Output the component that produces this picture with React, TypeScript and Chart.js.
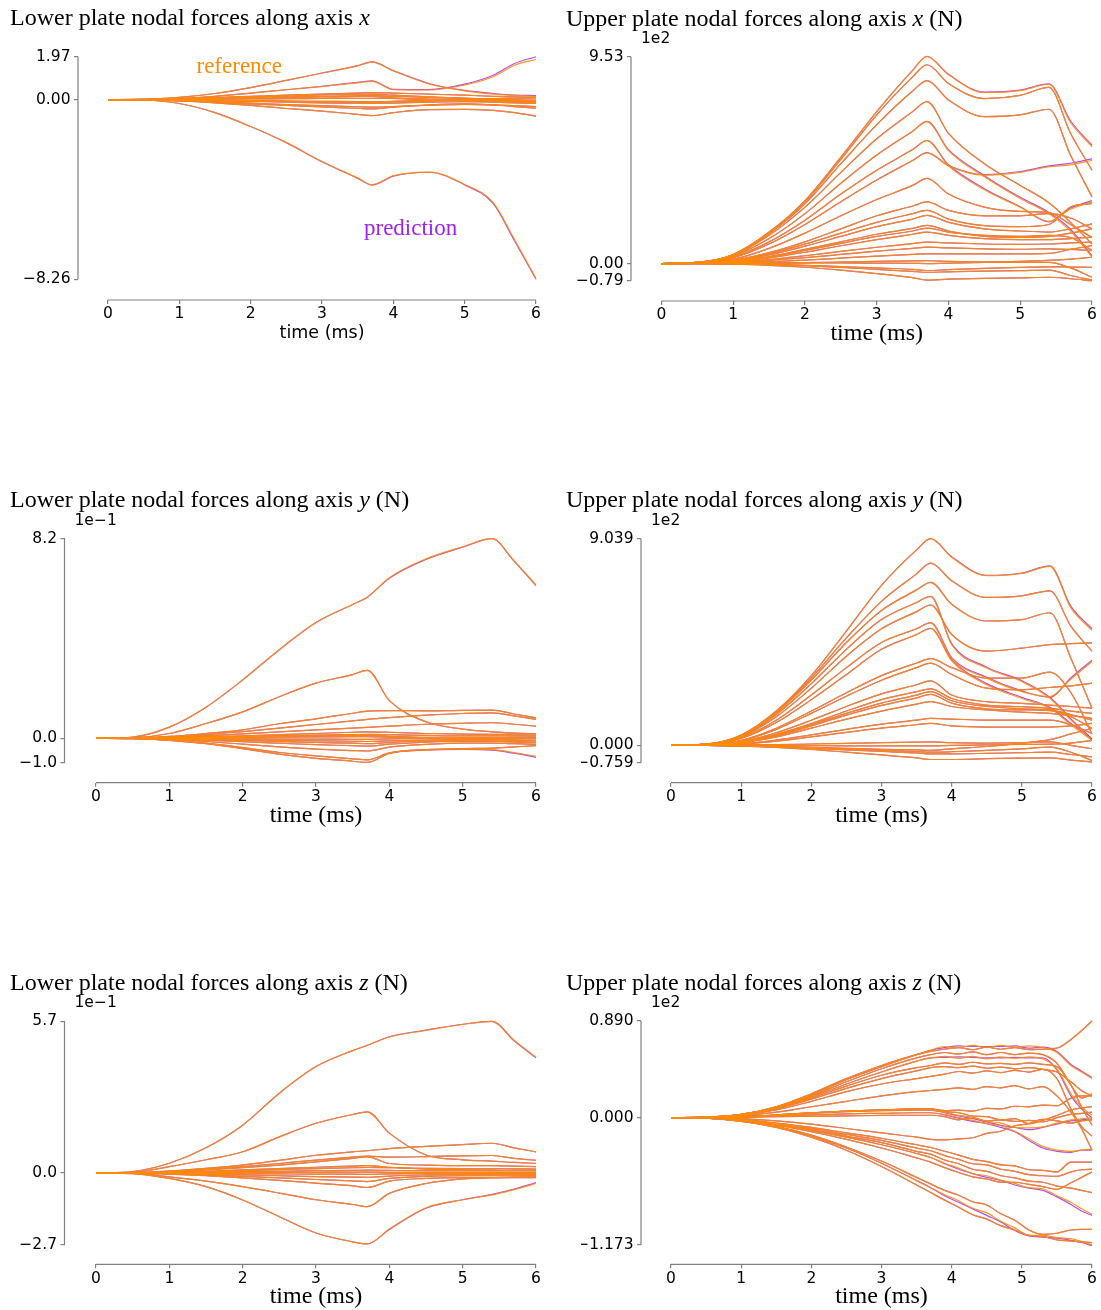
import React, { useEffect, useRef } from "react";
import { Chart, registerables } from "chart.js";

Chart.register(...registerables);

const PAGE_W = 1101;
const PAGE_H = 1310;

// ---------------- time axes ----------------
const TIME = [0, 0.5, 1, 1.5, 2, 2.5, 3, 3.5, 3.7, 4, 4.5, 5, 5.4, 5.7, 6];
const TIME_UPPER_Z = [0, 0.5, 1, 1.5, 2, 2.5, 3, 3.5, 3.7, 3.9, 4.1, 4.3, 4.5, 4.7, 4.9, 5.1, 5.3, 5.5, 5.7, 5.85, 6];
const X_TICKS = [0, 1, 2, 3, 4, 5, 6];

// ---------------- Lower plate, axis x ----------------
const LOWER_X_REF = [
  [0, 0.01, 0.1, 0.28, 0.55, 0.88, 1.22, 1.55, 1.72, 1.32, 0.72, 0.4, 0.25, 0.18, 0.15],
  [0, 0.005, 0.05, 0.15, 0.3, 0.45, 0.6, 0.77, 0.84, 0.45, 0.44, 0.67, 1.05, 1.58, 1.84],
  [0, -0.02, -0.18, -0.6, -1.24, -1.98, -2.85, -3.6, -3.91, -3.5, -3.33, -3.9, -4.74, -6.44, -8.22],
  [0, -0.01, -0.06, -0.15, -0.27, -0.41, -0.53, -0.68, -0.74, -0.6, -0.46, -0.45, -0.5, -0.6, -0.76],
  [0, 0.005, 0.04, 0.09, 0.15, 0.2, 0.25, 0.3, 0.32, 0.3, 0.25, 0.2, 0.15, 0.12, 0.1],
  [0, 0.003, 0.02, 0.05, 0.08, 0.11, 0.14, 0.17, 0.18, 0.15, 0.1, 0.06, 0.04, 0.06, 0.08],
  [0, 0.002, 0.01, 0.02, 0.03, 0.04, 0.05, 0.06, 0.06, 0.05, 0.02, 0.0, -0.02, -0.03, -0.05],
  [0, -0.002, -0.01, -0.03, -0.05, -0.07, -0.08, -0.09, -0.1, -0.08, -0.05, -0.03, -0.02, -0.02, -0.02],
  [0, -0.003, -0.02, -0.05, -0.08, -0.12, -0.15, -0.17, -0.18, -0.16, -0.12, -0.1, -0.12, -0.15, -0.18],
  [0, -0.005, -0.04, -0.1, -0.16, -0.23, -0.28, -0.33, -0.35, -0.32, -0.26, -0.22, -0.24, -0.28, -0.32],
  [0, -0.005, -0.05, -0.12, -0.2, -0.27, -0.34, -0.4, -0.43, -0.35, -0.25, -0.2, -0.25, -0.32, -0.4],
  [0, 0.002, 0.015, 0.04, 0.07, 0.1, 0.12, 0.14, 0.15, 0.08, 0.0, -0.05, -0.08, -0.1, -0.12],
  [0, 0.004, 0.03, 0.07, 0.12, 0.17, 0.21, 0.24, 0.25, 0.2, 0.12, 0.06, 0.02, -0.03, -0.08],
  [0, -0.002, -0.015, -0.04, -0.06, -0.08, -0.1, -0.12, -0.13, -0.1, -0.06, -0.04, -0.06, -0.1, -0.13],
];
const LOWER_X_PRED_DIFF: Record<number, number[]> = {
  0: [0, 0.01, 0.1, 0.28, 0.55, 0.88, 1.22, 1.56, 1.73, 1.33, 0.74, 0.42, 0.28, 0.21, 0.18],
  1: [0, 0.005, 0.05, 0.15, 0.3, 0.45, 0.61, 0.79, 0.86, 0.47, 0.46, 0.71, 1.12, 1.66, 1.97],
  2: [0, -0.02, -0.18, -0.6, -1.24, -1.98, -2.86, -3.62, -3.93, -3.52, -3.34, -3.92, -4.78, -6.5, -8.26],
};
const LOWER_X_YTICKS = [-8.26, 0, 1.97];

// ---------------- Upper plate, axis x (x 1e2 N) ----------------
const UPPER_X_REF = [
  [0, 0.05, 0.42, 1.45, 2.9, 4.9, 7.0, 8.9, 9.53, 8.7, 7.88, 7.97, 8.26, 6.5, 5.38],
  [0, 0.05, 0.41, 1.42, 2.85, 4.8, 6.85, 8.6, 9.16, 8.3, 7.6, 7.75, 8.12, 6.0, 4.3],
  [0, 0.05, 0.4, 1.38, 2.75, 4.6, 6.4, 7.95, 8.43, 7.54, 6.77, 6.85, 7.11, 5.0, 3.07],
  [0, 0.05, 0.38, 1.3, 2.6, 4.2, 5.75, 7.0, 7.46, 6.0, 4.6, 3.6, 2.8, 1.9, 0.9],
  [0, 0.04, 0.34, 1.15, 2.3, 3.7, 5.0, 6.1, 6.54, 5.2, 4.0, 3.0, 2.3, 1.5, 0.3],
  [0, 0.04, 0.3, 1.0, 2.0, 3.2, 4.3, 5.25, 5.66, 4.5, 3.4, 2.6, 1.95, 2.5, 2.84],
  [0, 0.03, 0.27, 0.9, 1.8, 2.85, 3.85, 4.75, 5.1, 4.5, 4.07, 4.2, 4.46, 4.55, 4.76],
  [0, 0.03, 0.2, 0.7, 1.4, 2.2, 2.95, 3.6, 3.92, 3.2, 2.6, 2.4, 2.35, 1.8, 1.2],
  [0, 0.02, 0.15, 0.5, 1.0, 1.6, 2.2, 2.65, 2.84, 2.45, 2.2, 2.2, 2.3, 2.1, 1.6],
  [0, 0.02, 0.13, 0.45, 0.9, 1.4, 1.9, 2.3, 2.45, 2.05, 1.75, 1.7, 1.8, 2.6, 2.77],
  [0, 0.02, 0.12, 0.4, 0.8, 1.25, 1.7, 2.05, 2.22, 1.9, 1.6, 1.5, 1.45, 1.6, 1.83],
  [0, 0.015, 0.1, 0.32, 0.65, 1.0, 1.35, 1.62, 1.76, 1.5, 1.25, 1.2, 1.25, 1.4, 1.6],
  [0, 0.015, 0.09, 0.3, 0.6, 0.93, 1.25, 1.5, 1.63, 1.45, 1.3, 1.25, 1.3, 1.2, 0.6],
  [0, 0.01, 0.08, 0.26, 0.52, 0.82, 1.1, 1.35, 1.45, 1.3, 1.15, 1.1, 1.1, 1.15, 1.22],
  [0, 0.01, 0.06, 0.18, 0.36, 0.56, 0.75, 0.92, 0.99, 0.95, 0.9, 0.88, 0.9, 0.95, 0.99],
  [0, 0.008, 0.04, 0.14, 0.27, 0.42, 0.57, 0.7, 0.76, 0.72, 0.68, 0.66, 0.68, 0.65, 0.6],
  [0, 0.005, 0.03, 0.08, 0.16, 0.25, 0.34, 0.42, 0.45, 0.45, 0.45, 0.45, 0.47, 0.65, 0.83],
  [0, 0.002, 0.01, 0.02, 0.03, 0.03, 0.02, 0.01, 0.0, 0.02, 0.05, 0.1, 0.15, 0.2, 0.29],
  [0, -0.002, -0.01, -0.04, -0.08, -0.14, -0.2, -0.27, -0.32, -0.28, -0.22, -0.18, -0.15, -0.16, -0.17],
  [0, -0.003, -0.03, -0.08, -0.17, -0.3, -0.46, -0.65, -0.76, -0.72, -0.68, -0.66, -0.63, -0.7, -0.79],
  [0, -0.002, -0.015, -0.05, -0.1, -0.18, -0.27, -0.36, -0.4, -0.38, -0.35, -0.33, -0.3, -0.55, -0.76],
  [0, 0.002, 0.01, 0.02, 0.04, 0.07, 0.1, 0.12, 0.13, 0.1, 0.07, 0.05, 0.05, -0.2, -0.63],
];
const UPPER_X_PRED_DIFF: Record<number, number[]> = {
  0: [0, 0.05, 0.42, 1.45, 2.9, 4.9, 7.0, 8.9, 9.55, 8.72, 7.9, 7.99, 8.28, 6.58, 5.45],
  4: [0, 0.04, 0.34, 1.15, 2.3, 3.7, 5.0, 6.1, 6.55, 5.25, 4.05, 3.05, 2.35, 1.58, 0.36],
  5: [0, 0.04, 0.3, 1.0, 2.0, 3.2, 4.3, 5.25, 5.67, 4.55, 3.45, 2.62, 1.92, 2.56, 2.9],
  6: [0, 0.03, 0.27, 0.9, 1.8, 2.85, 3.85, 4.75, 5.11, 4.52, 4.1, 4.24, 4.5, 4.62, 4.82],
};
const UPPER_X_YTICKS = [-0.79, 0, 9.53];

// ---------------- Lower plate, axis y (x 1e-1 N) ----------------
const LOWER_Y_REF = [
  [0, 0.05, 0.46, 1.28, 2.4, 3.64, 4.76, 5.5, 5.8, 6.6, 7.37, 7.87, 8.2, 7.3, 6.3],
  [0, 0.02, 0.2, 0.61, 1.09, 1.71, 2.27, 2.62, 2.79, 1.55, 0.68, 0.38, 0.27, 0.22, 0.19],
  [0, 0.01, 0.08, 0.2, 0.35, 0.6, 0.8, 1.03, 1.12, 1.14, 1.13, 1.15, 1.16, 1.0, 0.84],
  [0, 0.01, 0.06, 0.15, 0.28, 0.42, 0.57, 0.72, 0.78, 0.85, 0.95, 1.02, 1.05, 0.92, 0.78],
  [0, 0.005, 0.04, 0.1, 0.18, 0.27, 0.35, 0.42, 0.45, 0.5, 0.58, 0.62, 0.64, 0.58, 0.5],
  [0, 0.003, 0.02, 0.06, 0.1, 0.15, 0.2, 0.25, 0.27, 0.25, 0.2, 0.17, 0.16, 0.17, 0.18],
  [0, 0.002, 0.015, 0.04, 0.07, 0.1, 0.13, 0.15, 0.16, 0.15, 0.12, 0.1, 0.1, 0.1, 0.1],
  [0, 0.001, 0.01, 0.02, 0.04, 0.05, 0.06, 0.07, 0.07, 0.05, 0.04, 0.03, 0.03, 0.04, 0.05],
  [0, -0.001, -0.005, -0.01, -0.02, -0.03, -0.03, -0.04, -0.04, -0.02, 0.0, 0.01, 0.0, -0.01, -0.02],
  [0, -0.002, -0.01, -0.03, -0.05, -0.08, -0.1, -0.12, -0.13, -0.1, -0.07, -0.05, -0.06, -0.08, -0.1],
  [0, -0.003, -0.02, -0.05, -0.09, -0.13, -0.17, -0.2, -0.22, -0.17, -0.12, -0.1, -0.12, -0.15, -0.18],
  [0, 0.002, 0.012, 0.03, 0.06, 0.08, 0.1, 0.12, 0.13, 0.08, 0.02, -0.02, -0.03, -0.02, 0.0],
  [0, -0.01, -0.08, -0.22, -0.42, -0.65, -0.82, -0.94, -0.99, -0.62, -0.48, -0.44, -0.46, -0.58, -0.74],
  [0, -0.01, -0.07, -0.2, -0.38, -0.58, -0.72, -0.84, -0.88, -0.6, -0.46, -0.42, -0.4, -0.35, -0.3],
  [0, -0.005, -0.05, -0.13, -0.24, -0.35, -0.44, -0.5, -0.52, -0.36, -0.25, -0.2, -0.2, -0.22, -0.25],
  [0, -0.003, -0.03, -0.08, -0.14, -0.2, -0.26, -0.3, -0.32, -0.24, -0.16, -0.12, -0.12, -0.14, -0.16],
];
const LOWER_Y_PRED_DIFF: Record<number, number[]> = {
  0: [0, 0.05, 0.46, 1.28, 2.4, 3.64, 4.76, 5.5, 5.8, 6.58, 7.35, 7.85, 8.2, 7.28, 6.27],
  12: [0, -0.01, -0.08, -0.22, -0.42, -0.65, -0.82, -0.94, -0.99, -0.62, -0.48, -0.45, -0.48, -0.61, -0.78],
};
const LOWER_Y_YTICKS = [-1.0, 0, 8.2];

// ---------------- Upper plate, axis y (x 1e2 N) ----------------
const UPPER_Y_REF = [
  [0, 0.05, 0.45, 1.5, 3.05, 5.0, 7.0, 8.55, 9.039, 8.23, 7.42, 7.52, 7.83, 6.0, 5.03],
  [0, 0.05, 0.43, 1.45, 2.95, 4.7, 6.3, 7.5, 7.97, 7.2, 6.47, 6.54, 6.76, 5.2, 4.12],
  [0, 0.05, 0.42, 1.42, 2.85, 4.5, 5.9, 6.8, 7.13, 6.17, 5.44, 5.5, 5.8, 3.8, 1.62],
  [0, 0.045, 0.4, 1.35, 2.7, 4.2, 5.5, 6.25, 6.51, 4.4, 3.38, 2.79, 2.06, 1.1, 0.22],
  [0, 0.04, 0.37, 1.25, 2.5, 3.9, 5.1, 5.85, 6.14, 4.85, 4.12, 4.25, 4.41, 4.45, 4.48],
  [0, 0.04, 0.33, 1.1, 2.2, 3.4, 4.5, 5.1, 5.36, 3.8, 2.94, 2.35, 2.13, 2.9, 3.67],
  [0, 0.035, 0.3, 1.0, 2.0, 3.1, 4.2, 4.85, 5.11, 3.7, 2.65, 2.05, 1.62, 0.9, 0.22],
  [0, 0.03, 0.22, 0.75, 1.5, 2.3, 3.05, 3.6, 3.79, 3.4, 2.94, 2.94, 3.2, 2.3, 0.5],
  [0, 0.025, 0.2, 0.7, 1.4, 2.15, 2.85, 3.4, 3.6, 3.1, 2.5, 2.43, 2.53, 2.6, 2.72],
  [0, 0.02, 0.16, 0.55, 1.1, 1.7, 2.25, 2.65, 2.82, 2.2, 1.91, 1.84, 1.76, 1.7, 1.62],
  [0, 0.02, 0.14, 0.48, 0.95, 1.5, 2.0, 2.35, 2.47, 2.05, 1.76, 1.69, 1.62, 1.5, 1.4],
  [0, 0.018, 0.13, 0.45, 0.9, 1.4, 1.85, 2.2, 2.35, 1.95, 1.7, 1.6, 1.55, 1.35, 1.1],
  [0, 0.017, 0.12, 0.42, 0.85, 1.32, 1.75, 2.08, 2.23, 1.85, 1.6, 1.55, 1.52, 1.25, 0.74],
  [0, 0.015, 0.11, 0.37, 0.75, 1.15, 1.5, 1.8, 1.91, 1.7, 1.55, 1.45, 1.4, 1.3, 1.18],
  [0, 0.01, 0.07, 0.23, 0.46, 0.7, 0.93, 1.1, 1.18, 1.15, 1.1, 1.1, 1.1, 0.9, 0.51],
  [0, 0.008, 0.05, 0.18, 0.37, 0.57, 0.75, 0.9, 0.96, 0.85, 0.8, 0.8, 0.8, 0.85, 0.96],
  [0, 0.002, 0.01, 0.03, 0.06, 0.09, 0.12, 0.14, 0.15, 0.12, 0.1, 0.12, 0.15, 0.0, -0.15],
  [0, 0.0, 0.0, 0.0, -0.01, -0.02, -0.02, -0.02, -0.02, 0.0, 0.02, 0.04, 0.05, 0.1, 0.22],
  [0, -0.003, -0.02, -0.05, -0.09, -0.13, -0.17, -0.2, -0.22, -0.15, -0.05, 0.1, 0.25, 0.5, 0.74],
  [0, -0.003, -0.025, -0.07, -0.13, -0.2, -0.27, -0.33, -0.37, -0.37, -0.35, -0.32, -0.3, -0.4, -0.5],
  [0, -0.004, -0.03, -0.09, -0.18, -0.3, -0.42, -0.55, -0.62, -0.62, -0.58, -0.56, -0.55, -0.65, -0.73],
  [0, -0.002, -0.015, -0.05, -0.1, -0.16, -0.22, -0.27, -0.3, -0.28, -0.22, -0.15, -0.08, -0.3, -0.66],
];
const UPPER_Y_PRED_DIFF: Record<number, number[]> = {
  0: [0, 0.05, 0.45, 1.5, 3.05, 5.0, 7.0, 8.55, 9.039, 8.25, 7.44, 7.54, 7.85, 6.08, 5.1],
  3: [0, 0.045, 0.4, 1.35, 2.7, 4.2, 5.5, 6.25, 6.52, 4.45, 3.42, 2.83, 2.1, 1.16, 0.28],
  5: [0, 0.04, 0.33, 1.1, 2.2, 3.4, 4.5, 5.1, 5.37, 3.84, 2.98, 2.38, 2.1, 2.96, 3.72],
  6: [0, 0.035, 0.3, 1.0, 2.0, 3.1, 4.2, 4.85, 5.12, 3.75, 2.7, 2.1, 1.66, 0.96, 0.28],
};
const UPPER_Y_YTICKS = [-0.759, 0, 9.039];

// ---------------- Lower plate, axis z (x 1e-1 N) ----------------
const LOWER_Z_REF = [
  [0, 0.06, 0.37, 0.95, 1.8, 3.0, 4.0, 4.6, 4.8, 5.11, 5.36, 5.58, 5.7, 4.99, 4.35],
  [0, 0.03, 0.24, 0.5, 0.8, 1.36, 1.87, 2.2, 2.3, 1.5, 0.68, 0.5, 0.45, 0.4, 0.37],
  [0, -0.02, -0.2, -0.51, -1.01, -1.64, -2.25, -2.58, -2.66, -2.1, -1.3, -1.0, -0.82, -0.62, -0.39],
  [0, -0.01, -0.14, -0.3, -0.51, -0.75, -1.0, -1.18, -1.26, -0.76, -0.39, -0.22, -0.17, -0.15, -0.14],
  [0, 0.01, 0.08, 0.18, 0.3, 0.48, 0.67, 0.8, 0.84, 0.92, 1.0, 1.07, 1.12, 0.95, 0.8],
  [0, 0.008, 0.06, 0.14, 0.24, 0.36, 0.49, 0.6, 0.64, 0.6, 0.62, 0.65, 0.66, 0.55, 0.48],
  [0, 0.006, 0.05, 0.12, 0.2, 0.3, 0.42, 0.55, 0.61, 0.36, 0.3, 0.28, 0.28, 0.26, 0.24],
  [0, 0.004, 0.03, 0.07, 0.12, 0.17, 0.22, 0.26, 0.28, 0.22, 0.15, 0.12, 0.11, 0.1, 0.1],
  [0, 0.003, 0.02, 0.05, 0.09, 0.13, 0.17, 0.2, 0.21, 0.2, 0.18, 0.17, 0.17, 0.16, 0.15],
  [0, 0.002, 0.01, 0.03, 0.05, 0.07, 0.09, 0.1, 0.11, 0.1, 0.09, 0.09, 0.09, 0.09, 0.09],
  [0, 0.001, 0.005, 0.01, 0.02, 0.03, 0.03, 0.04, 0.04, 0.03, 0.03, 0.03, 0.03, 0.03, 0.03],
  [0, -0.001, -0.005, -0.01, -0.02, -0.03, -0.04, -0.04, -0.05, -0.03, -0.02, -0.01, -0.01, -0.01, -0.02],
  [0, -0.002, -0.015, -0.04, -0.07, -0.1, -0.13, -0.15, -0.16, -0.11, -0.07, -0.05, -0.05, -0.05, -0.06],
  [0, -0.005, -0.04, -0.1, -0.18, -0.27, -0.38, -0.48, -0.54, -0.3, -0.2, -0.17, -0.17, -0.17, -0.17],
  [0, -0.003, -0.03, -0.07, -0.12, -0.18, -0.24, -0.29, -0.32, -0.2, -0.12, -0.1, -0.1, -0.1, -0.1],
];
const LOWER_Z_PRED_DIFF: Record<number, number[]> = {
  0: [0, 0.06, 0.37, 0.95, 1.8, 3.0, 4.0, 4.6, 4.8, 5.12, 5.37, 5.59, 5.7, 4.97, 4.33],
  2: [0, -0.02, -0.2, -0.51, -1.01, -1.64, -2.25, -2.58, -2.66, -2.12, -1.32, -1.0, -0.8, -0.6, -0.36],
};
const LOWER_Z_YTICKS = [-2.7, 0, 5.7];

// ---------------- Upper plate, axis z (x 1e2 N) ----------------
const UPPER_Z_REF = [
  [0, 0.004, 0.03, 0.1, 0.22, 0.36, 0.48, 0.58, 0.61, 0.63, 0.645, 0.625, 0.65, 0.63, 0.645, 0.625, 0.63, 0.64, 0.72, 0.8, 0.89],
  [0, 0.004, 0.03, 0.1, 0.21, 0.35, 0.47, 0.58, 0.62, 0.655, 0.645, 0.665, 0.645, 0.665, 0.65, 0.66, 0.645, 0.6, 0.48, 0.42, 0.36],
  [0, 0.004, 0.03, 0.095, 0.2, 0.33, 0.45, 0.55, 0.58, 0.6, 0.585, 0.605, 0.58, 0.6, 0.58, 0.595, 0.58, 0.5, 0.3, 0.18, 0.22],
  [0, 0.004, 0.028, 0.09, 0.19, 0.31, 0.42, 0.52, 0.55, 0.565, 0.545, 0.565, 0.54, 0.56, 0.545, 0.56, 0.54, 0.45, 0.22, 0.1, 0.02],
  [0, 0.003, 0.026, 0.085, 0.18, 0.29, 0.39, 0.46, 0.48, 0.505, 0.49, 0.51, 0.495, 0.5, 0.49, 0.505, 0.49, 0.47, 0.3, 0.1, -0.07],
  [0, 0.003, 0.024, 0.08, 0.17, 0.27, 0.36, 0.43, 0.46, 0.47, 0.46, 0.475, 0.455, 0.465, 0.45, 0.46, 0.445, 0.42, 0.33, 0.25, 0.2],
  [0, 0.003, 0.022, 0.07, 0.15, 0.24, 0.31, 0.36, 0.38, 0.4, 0.425, 0.41, 0.43, 0.415, 0.435, 0.42, 0.445, 0.36, 0.08, -0.08, -0.17],
  [0, 0.002, 0.015, 0.05, 0.1, 0.15, 0.2, 0.24, 0.25, 0.26, 0.275, 0.26, 0.285, 0.275, 0.295, 0.265, 0.285, 0.2, 0.05, -0.1, -0.3],
  [0, 0.001, 0.008, 0.025, 0.045, 0.06, 0.07, 0.08, 0.08, 0.065, 0.07, 0.06, 0.085, 0.08, 0.105, 0.1, 0.115, 0.11, 0.18, 0.2, 0.2],
  [0, 0.001, 0.008, 0.025, 0.045, 0.06, 0.072, 0.08, 0.082, 0.055, 0.045, 0.015, 0.01, -0.02, -0.01, -0.055, -0.025, 0.02, 0.07, 0.09, 0.1],
  [0, 0.001, 0.007, 0.02, 0.04, 0.055, 0.065, 0.07, 0.07, 0.05, 0.02, 0.005, -0.035, -0.05, -0.09, -0.095, -0.085, -0.05, -0.02, -0.01, 0.0],
  [0, 0.001, 0.006, 0.015, 0.025, 0.035, 0.04, 0.045, 0.045, 0.03, 0.0, -0.025, -0.055, -0.075, -0.125, -0.195, -0.265, -0.3, -0.31, -0.3, -0.29],
  [0, 0.0, 0.003, 0.008, 0.012, 0.016, 0.02, 0.022, 0.022, 0.01, -0.02, -0.005, -0.03, -0.02, -0.035, -0.025, -0.04, 0.0, 0.03, 0.04, 0.05],
  [0, -0.001, -0.01, -0.03, -0.06, -0.1, -0.14, -0.18, -0.2, -0.205, -0.195, -0.185, -0.145, -0.125, -0.075, -0.055, -0.015, -0.03, -0.05, -0.03, -0.02],
  [0, -0.002, -0.018, -0.05, -0.09, -0.14, -0.19, -0.25, -0.275, -0.31, -0.345, -0.385, -0.405, -0.435, -0.445, -0.48, -0.485, -0.5, -0.41, -0.41, -0.41],
  [0, -0.002, -0.02, -0.055, -0.1, -0.155, -0.21, -0.28, -0.305, -0.35, -0.385, -0.425, -0.435, -0.475, -0.495, -0.525, -0.535, -0.54, -0.5, -0.48, -0.475],
  [0, -0.002, -0.02, -0.06, -0.11, -0.17, -0.23, -0.31, -0.336, -0.39, -0.425, -0.475, -0.495, -0.535, -0.555, -0.585, -0.595, -0.63, -0.65, -0.67, -0.69],
  [0, -0.003, -0.022, -0.065, -0.12, -0.18, -0.25, -0.33, -0.367, -0.42, -0.465, -0.515, -0.535, -0.575, -0.605, -0.645, -0.655, -0.72, -0.78, -0.84, -0.89],
  [0, -0.003, -0.024, -0.07, -0.13, -0.2, -0.28, -0.37, -0.41, -0.46, -0.505, -0.545, -0.565, -0.595, -0.595, -0.615, -0.635, -0.66, -0.6, -0.55, -0.5],
  [0, -0.004, -0.03, -0.08, -0.16, -0.27, -0.4, -0.55, -0.61, -0.67, -0.715, -0.775, -0.805, -0.885, -0.945, -1.035, -1.075, -1.065, -1.035, -1.03, -1.03],
  [0, -0.004, -0.032, -0.085, -0.17, -0.28, -0.42, -0.58, -0.645, -0.71, -0.765, -0.835, -0.875, -0.955, -1.015, -1.085, -1.085, -1.105, -1.115, -1.14, -1.17],
  [0, -0.005, -0.034, -0.09, -0.18, -0.3, -0.45, -0.62, -0.69, -0.76, -0.825, -0.895, -0.935, -0.995, -1.035, -1.085, -1.095, -1.125, -1.135, -1.145, -1.15],
];
const UPPER_Z_PRED_DIFF: Record<number, number[]> = {
  1: [0, 0.004, 0.03, 0.1, 0.21, 0.35, 0.47, 0.58, 0.62, 0.645, 0.66, 0.655, 0.655, 0.655, 0.66, 0.64, 0.65, 0.61, 0.49, 0.43, 0.37],
  3: [0, 0.004, 0.028, 0.09, 0.19, 0.31, 0.42, 0.52, 0.55, 0.555, 0.56, 0.555, 0.55, 0.55, 0.555, 0.55, 0.55, 0.44, 0.2, 0.08, 0.0],
  10: [0, 0.001, 0.007, 0.02, 0.04, 0.055, 0.065, 0.07, 0.07, 0.045, 0.015, -0.01, -0.04, -0.07, -0.09, -0.11, -0.09, -0.06, -0.03, -0.02, -0.01],
  11: [0, 0.001, 0.006, 0.015, 0.025, 0.035, 0.04, 0.045, 0.045, 0.025, -0.005, -0.035, -0.055, -0.09, -0.13, -0.21, -0.28, -0.31, -0.32, -0.3, -0.3],
  17: [0, -0.003, -0.022, -0.065, -0.12, -0.18, -0.25, -0.33, -0.367, -0.425, -0.475, -0.515, -0.55, -0.58, -0.62, -0.65, -0.67, -0.73, -0.8, -0.86, -0.9],
  20: [0, -0.004, -0.032, -0.085, -0.17, -0.28, -0.42, -0.58, -0.645, -0.72, -0.78, -0.84, -0.9, -0.96, -1.04, -1.09, -1.1, -1.11, -1.13, -1.15, -1.18],
};
const UPPER_Z_YTICKS = [-1.173, 0, 0.89];

// ---------------- styling / layout ----------------
const ORANGE = "rgba(255, 140, 0, 0.9)";
const PURPLE = "rgba(160, 32, 240, 0.8)";
const SPINE = "#808080";
const SANS = "'DejaVu Sans', sans-serif";
const SERIF = "'Liberation Serif', 'DejaVu Serif', serif";
const TITLE_SIZE = 24;
const TICK_SIZE = 15.5;
const Y_AXIS_W = 60;
const X_AXIS_H = 40;

type Layout = {
  spineX: number; x0: number; x6: number; yHiPx: number; yLoPx: number; axisY: number;
  titleX: number; titleBase: number;
};

type Panel = {
  title: [string, string, string];
  ref: number[][];
  predDiff: Record<number, number[]>;
  time: number[];
  yTicks: number[];
  decimals: number;
  offsetText: string | null;
  sansXLabel: boolean;
  annotate: boolean;
  layout: Layout;
};

const PANELS: Panel[] = [
  {
    title: ["Lower plate nodal forces along axis ", "x", ""],
    ref: LOWER_X_REF, predDiff: LOWER_X_PRED_DIFF, time: TIME, yTicks: LOWER_X_YTICKS, decimals: 2,
    offsetText: null, sansXLabel: true, annotate: true,
    layout: { spineX: 78, x0: 108, x6: 536, yHiPx: 56.7, yLoPx: 279.3, axisY: 300, titleX: 10, titleBase: 24.5 },
  },
  {
    title: ["Upper plate nodal forces along axis ", "x", " (N)"],
    ref: UPPER_X_REF, predDiff: UPPER_X_PRED_DIFF, time: TIME, yTicks: UPPER_X_YTICKS, decimals: 2,
    offsetText: "1e2", sansXLabel: false, annotate: false,
    layout: { spineX: 631, x0: 661.5, x6: 1092, yHiPx: 56.7, yLoPx: 280.7, axisY: 301, titleX: 566, titleBase: 25.5 },
  },
  {
    title: ["Lower plate nodal forces along axis ", "y", " (N)"],
    ref: LOWER_Y_REF, predDiff: LOWER_Y_PRED_DIFF, time: TIME, yTicks: LOWER_Y_YTICKS, decimals: 1,
    offsetText: "1e\u22121", sansXLabel: false, annotate: false,
    layout: { spineX: 64.5, x0: 96, x6: 536, yHiPx: 538.7, yLoPx: 762.7, axisY: 782.7, titleX: 10, titleBase: 507 },
  },
  {
    title: ["Upper plate nodal forces along axis ", "y", " (N)"],
    ref: UPPER_Y_REF, predDiff: UPPER_Y_PRED_DIFF, time: TIME, yTicks: UPPER_Y_YTICKS, decimals: 3,
    offsetText: "1e2", sansXLabel: false, annotate: false,
    layout: { spineX: 641, x0: 671, x6: 1092, yHiPx: 538.7, yLoPx: 762.7, axisY: 782.7, titleX: 566, titleBase: 507 },
  },
  {
    title: ["Lower plate nodal forces along axis ", "z", " (N)"],
    ref: LOWER_Z_REF, predDiff: LOWER_Z_PRED_DIFF, time: TIME, yTicks: LOWER_Z_YTICKS, decimals: 1,
    offsetText: "1e\u22121", sansXLabel: false, annotate: false,
    layout: { spineX: 64.5, x0: 96, x6: 536, yHiPx: 1021.3, yLoPx: 1245, axisY: 1264.3, titleX: 10, titleBase: 990 },
  },
  {
    title: ["Upper plate nodal forces along axis ", "z", " (N)"],
    ref: UPPER_Z_REF, predDiff: UPPER_Z_PRED_DIFF, time: TIME_UPPER_Z, yTicks: UPPER_Z_YTICKS, decimals: 3,
    offsetText: "1e2", sansXLabel: false, annotate: false,
    layout: { spineX: 641, x0: 671, x6: 1092, yHiPx: 1021, yLoPx: 1245, axisY: 1264.3, titleX: 566, titleBase: 990 },
  },
];

function fmt(v: number, dec: number): string {
  const s = Math.abs(v).toFixed(dec);
  return (v < 0 ? "\u2212" : "") + s;
}

function makeDecor(p: Panel) {
  return {
    id: "decor",
    afterDraw(chart: any) {
      const ctx: CanvasRenderingContext2D = chart.ctx;
      const xs = chart.scales.x;
      const ys = chart.scales.y;
      const L = p.layout;
      const left = chart.chartArea.left;
      const bottom = chart.chartArea.bottom;
      ctx.save();
      // trimmed spines
      ctx.strokeStyle = SPINE;
      ctx.lineWidth = 1.2;
      ctx.beginPath();
      ctx.moveTo(left, ys.getPixelForValue(p.yTicks[p.yTicks.length - 1]));
      ctx.lineTo(left, ys.getPixelForValue(p.yTicks[0]));
      ctx.moveTo(xs.getPixelForValue(0), bottom);
      ctx.lineTo(xs.getPixelForValue(6), bottom);
      ctx.stroke();

      // title
      ctx.fillStyle = "#000";
      ctx.textBaseline = "alphabetic";
      ctx.textAlign = "left";
      let tx = L.titleX;
      const normal = `${TITLE_SIZE}px ${SERIF}`;
      const italic = `italic ${TITLE_SIZE}px ${SERIF}`;
      ctx.font = normal;
      ctx.fillText(p.title[0], tx, L.titleBase);
      tx += ctx.measureText(p.title[0]).width;
      ctx.font = italic;
      ctx.fillText(p.title[1], tx, L.titleBase);
      tx += ctx.measureText(p.title[1]).width;
      ctx.font = normal;
      if (p.title[2]) ctx.fillText(p.title[2], tx, L.titleBase);

      // x label
      ctx.textAlign = "center";
      const cx = xs.getPixelForValue(3);
      if (p.sansXLabel) {
        ctx.font = `17.5px ${SANS}`;
        ctx.fillText("time (ms)", cx, L.axisY + 38);
      } else {
        ctx.font = `${TITLE_SIZE}px ${SERIF}`;
        ctx.fillText("time (ms)", cx, L.axisY + 39);
      }

      // offset (multiplier) text
      if (p.offsetText) {
        ctx.textAlign = "left";
        ctx.font = `${TICK_SIZE}px ${SANS}`;
        ctx.fillText(p.offsetText, L.spineX + 10, L.yHiPx - 14);
      }

      // annotations
      if (p.annotate) {
        ctx.textAlign = "left";
        ctx.font = `23px ${SERIF}`;
        ctx.fillStyle = "#ff8c00";
        ctx.fillText("reference", 196.5, 73);
        ctx.fillStyle = "#a020f0";
        ctx.fillText("prediction", 364, 235);
      }
      ctx.restore();
    },
  };
}

function buildConfig(p: Panel): any {
  const L = p.layout;
  const ppt = (L.x6 - L.x0) / 6;
  const xMin = -(L.x0 - L.spineX) / ppt;
  const yLo = p.yTicks[0];
  const yHi = p.yTicks[p.yTicks.length - 1];
  const ppu = (L.yLoPx - L.yHiPx) / (yHi - yLo);
  const yMin = yLo - (L.axisY - L.yLoPx) / ppu;

  const common = {
    pointRadius: 0,
    pointHoverRadius: 0,
    fill: false,
    cubicInterpolationMode: "monotone",
    clip: false,
    borderWidth: 1.2,
  };
  const datasets: any[] = [];
  p.ref.forEach((vals, i) => {
    const pred = p.predDiff[i] ?? vals;
    datasets.push({
      ...common,
      label: `reference ${i + 1}`,
      data: p.time.map((t, k) => ({ x: t, y: vals[k] })),
      borderColor: ORANGE,
      order: 1,
    });
    datasets.push({
      ...common,
      label: `prediction ${i + 1}`,
      data: p.time.map((t, k) => ({ x: t, y: pred[k] })),
      borderColor: PURPLE,
      order: 2,
    });
  });

  const tickFont = { family: SANS, size: TICK_SIZE };
  return {
    type: "line",
    data: { datasets },
    options: {
      responsive: false,
      maintainAspectRatio: false,
      animation: false,
      devicePixelRatio: 1,
      events: [],
      layout: {
        padding: {
          left: L.spineX - Y_AXIS_W,
          right: PAGE_W - L.x6,
          top: L.yHiPx,
          bottom: PAGE_H - L.axisY - X_AXIS_H,
        },
      },
      plugins: {
        legend: { display: false },
        tooltip: { enabled: false },
        title: { display: false },
      },
      scales: {
        x: {
          type: "linear",
          min: xMin,
          max: 6,
          afterFit: (s: any) => { s.height = X_AXIS_H; },
          afterBuildTicks: (s: any) => { s.ticks = X_TICKS.map((v) => ({ value: v })); },
          ticks: {
            autoSkip: false,
            maxRotation: 0,
            padding: 1,
            color: "#000",
            font: tickFont,
            callback: (v: any) => String(v),
          },
          grid: { display: true, drawOnChartArea: false, drawTicks: true, tickLength: 4, color: SPINE, lineWidth: 1.2 },
          border: { display: false },
        },
        y: {
          type: "linear",
          min: yMin,
          max: yHi,
          afterFit: (s: any) => { s.width = Y_AXIS_W; },
          afterBuildTicks: (s: any) => { s.ticks = p.yTicks.map((v) => ({ value: v })); },
          ticks: {
            autoSkip: false,
            padding: 3.5,
            color: "#000",
            font: tickFont,
            callback: (v: any) => fmt(Number(v), p.decimals),
          },
          grid: { display: true, drawOnChartArea: false, drawTicks: true, tickLength: 4, color: SPINE, lineWidth: 1.2 },
          border: { display: false },
        },
      },
    },
    plugins: [makeDecor(p)],
  };
}

function PanelChart({ panel }: { panel: Panel }) {
  const ref = useRef<HTMLCanvasElement | null>(null);
  useEffect(() => {
    if (!ref.current) return;
    const chart = new Chart(ref.current, buildConfig(panel));
    return () => chart.destroy();
  }, [panel]);
  return (
    <canvas
      ref={ref}
      width={PAGE_W}
      height={PAGE_H}
      style={{ position: "absolute", left: 0, top: 0, width: PAGE_W, height: PAGE_H }}
    />
  );
}

export default function App() {
  return (
    <div style={{ position: "absolute", left: 0, top: 0, width: PAGE_W, height: PAGE_H, background: "#fff", overflow: "hidden" }}>
      {PANELS.map((p, i) => (
        <PanelChart key={i} panel={p} />
      ))}
    </div>
  );
}
